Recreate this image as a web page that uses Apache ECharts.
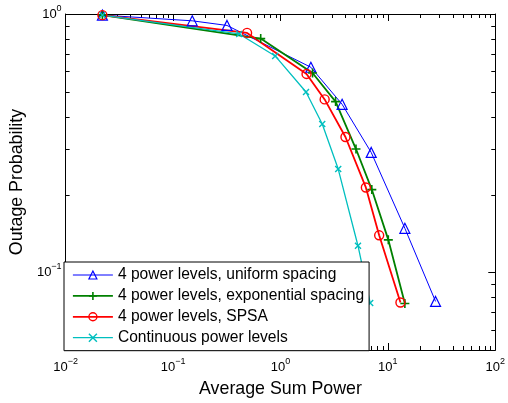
<!DOCTYPE html>
<html>
<head>
<meta charset="utf-8">
<script src="https://cdn.jsdelivr.net/npm/echarts@6/dist/echarts.min.js"></script>
<style>
html,body{margin:0;padding:0;background:#fff;}
#c{width:508px;height:403px;}
</style>
</head>
<body>
<div id="c"></div>
<script>
// ---- data ----
const seriesNames = [
  '4 power levels, uniform spacing',
  '4 power levels, exponential spacing',
  '4 power levels, SPSA',
  'Continuous power levels'
];
const uniformX = [0.022, 0.151, 0.318, 1.92, 3.75, 7.0, 14.4, 27.8];
const uniformY = [0.99, 0.941, 0.903, 0.622, 0.447, 0.291, 0.148, 0.0771];
const expX = [0.022, 0.655, 1.99, 3.26, 5.05, 7.09, 10.1, 14.4];
const expY = [0.99, 0.803, 0.591, 0.458, 0.300, 0.209, 0.1335, 0.0757];
const spsaX = [0.022, 0.489, 1.75, 2.58, 4.03, 6.24, 8.3, 13.1];
const spsaY = [0.99, 0.845, 0.586, 0.467, 0.334, 0.213, 0.139, 0.0764];
const contX = [0.022, 0.413, 0.893, 1.73, 2.45, 3.45, 5.27, 6.85];
const contY = [0.99, 0.837, 0.688, 0.499, 0.375, 0.251, 0.1267, 0.076];
const xMinorTicks = [0.02,0.03,0.04,0.05,0.06,0.07,0.08,0.09,
                     0.2,0.3,0.4,0.5,0.6,0.7,0.8,0.9,
                     2,3,4,5,6,7,8,9,
                     20,30,40,50,60,70,80,90];
const yMinorTicks = [0.06,0.07,0.08,0.09,0.2,0.3,0.4,0.5,0.6,0.7,0.8,0.9];

const FONT = '"Liberation Sans", Arial, Helvetica, sans-serif';
function pairs(xs, ys){ return xs.map((x,i)=>[x, ys[i]]); }
function powLabel(v){
  const e = Math.log10(v);
  const r = Math.round(e);
  if (Math.abs(e - r) > 1e-6) return '';
  return '{b|10}{s|' + (r < 0 ? '\u2212' + (-r) : r) + '}';
}
const richLab = {
  b: {fontSize: 13, lineHeight: 20, fontFamily: FONT, color: '#000'},
  s: {fontSize: 9, lineHeight: 9, verticalAlign: 'top', fontFamily: FONT, color: '#000'}
};
const PLUS = 'path://M5,0L5,10M0,5L10,5';
const CROSS = 'path://M0,0L10,10M0,10L10,0';

const chart = echarts.init(document.getElementById('c'), null, {renderer: 'canvas'});
const axisCommon = {
  type: 'log', logBase: 10,
  axisLine: {show: true, onZero: false, lineStyle: {color: '#000', width: 1}},
  splitLine: {show: false},
  minorTick: {show: false},
  minorSplitLine: {show: false}
};
chart.setOption({
  animation: false,
  backgroundColor: '#fff',
  textStyle: {fontFamily: FONT},
  grid: {left: 64, right: 10, top: 14, bottom: 47, containLabel: false},
  xAxis: [
    Object.assign({}, axisCommon, {
      position: 'bottom', min: 0.01, max: 100,
      axisTick: {show: true, inside: true, length: 7, lineStyle: {color: '#000'}},
      axisLabel: {show: true, margin: 7, formatter: powLabel, rich: richLab, showMinLabel: true, showMaxLabel: true},
      name: 'Average Sum Power', nameLocation: 'middle', nameGap: 30,
      nameTextStyle: {fontSize: 17.8, color: '#000', fontFamily: FONT}
    }),
    Object.assign({}, axisCommon, {
      position: 'top', min: 0.01, max: 100,
      axisTick: {show: true, inside: true, length: 7, lineStyle: {color: '#000'}},
      axisLabel: {show: false}
    })
  ],
  yAxis: [
    Object.assign({}, axisCommon, {
      position: 'left', min: 0.05, max: 1,
      axisTick: {show: true, inside: true, length: 7, lineStyle: {color: '#000'}},
      axisLabel: {show: true, margin: 4, formatter: powLabel, rich: richLab, showMinLabel: true, showMaxLabel: true},
      name: 'Outage Probability', nameLocation: 'middle', nameGap: 37, nameRotate: 90,
      nameTextStyle: {fontSize: 17.8, color: '#000', fontFamily: FONT}
    }),
    Object.assign({}, axisCommon, {
      position: 'right', min: 0.05, max: 1,
      axisTick: {show: true, inside: true, length: 7, lineStyle: {color: '#000'}},
      axisLabel: {show: false}
    })
  ],
  legend: {
    orient: 'vertical', left: 64, top: 262,
    data: seriesNames,
    backgroundColor: '#fff', borderColor: '#000', borderWidth: 1, borderRadius: 0,
    padding: [5, 5, 5, 8],
    itemWidth: 40, itemHeight: 10, itemGap: 4.9,
    lineStyle: {width: 'inherit'},
    itemStyle: {borderWidth: 'inherit'},
    textStyle: {fontSize: 15.6, color: '#000', fontFamily: FONT}
  },
  series: [
    {
      name: seriesNames[0], type: 'line', xAxisIndex: 0, yAxisIndex: 0,
      data: pairs(uniformX, uniformY),
      lineStyle: {color: '#0000ff', width: 1},
      symbol: 'triangle', symbolSize: 10, showAllSymbol: true,
      itemStyle: {color: 'rgba(0,0,0,0)', borderColor: '#0000ff', borderWidth: 1.2},
      color: '#0000ff'
    },
    {
      name: seriesNames[1], type: 'line', xAxisIndex: 0, yAxisIndex: 0,
      data: pairs(expX, expY),
      lineStyle: {color: '#008000', width: 1.8},
      symbol: PLUS, symbolSize: 9, showAllSymbol: true,
      itemStyle: {color: 'rgba(0,0,0,0)', borderColor: '#008000', borderWidth: 1.6},
      color: '#008000'
    },
    {
      name: seriesNames[2], type: 'line', xAxisIndex: 0, yAxisIndex: 0,
      data: pairs(spsaX, spsaY),
      lineStyle: {color: '#ff0000', width: 1.8},
      symbol: 'circle', symbolSize: 9, showAllSymbol: true,
      itemStyle: {color: 'rgba(0,0,0,0)', borderColor: '#ff0000', borderWidth: 1.4},
      color: '#ff0000'
    },
    {
      name: seriesNames[3], type: 'line', xAxisIndex: 0, yAxisIndex: 0,
      data: pairs(contX, contY),
      lineStyle: {color: '#00bfbf', width: 1.3},
      symbol: CROSS, symbolSize: 6, showAllSymbol: true,
      itemStyle: {color: 'rgba(0,0,0,0)', borderColor: '#00bfbf', borderWidth: 1.4},
      color: '#00bfbf'
    },
    {
      name: 'xminor', type: 'custom', xAxisIndex: 0, yAxisIndex: 0, silent: true,
      data: xMinorTicks.map(v => [v, 0.5]),
      renderItem: function(params, api){
        const cs = params.coordSys;
        const px = Math.round(api.coord([api.value(0), 0.5])[0]) + 0.5;
        const b = cs.y + cs.height, t = cs.y;
        return {type: 'group', children: [
          {type: 'line', shape: {x1: px, y1: b, x2: px, y2: b - 4}, style: {stroke: '#000', lineWidth: 1}},
          {type: 'line', shape: {x1: px, y1: t, x2: px, y2: t + 4}, style: {stroke: '#000', lineWidth: 1}}
        ]};
      }
    },
    {
      name: 'yminor', type: 'custom', xAxisIndex: 0, yAxisIndex: 0, silent: true,
      data: yMinorTicks.map(v => [1, v]),
      renderItem: function(params, api){
        const cs = params.coordSys;
        const py = Math.round(api.coord([1, api.value(1)])[1]) + 0.5;
        const l = cs.x, r = cs.x + cs.width;
        return {type: 'group', children: [
          {type: 'line', shape: {x1: l, y1: py, x2: l + 4, y2: py}, style: {stroke: '#000', lineWidth: 1}},
          {type: 'line', shape: {x1: r, y1: py, x2: r - 4, y2: py}, style: {stroke: '#000', lineWidth: 1}}
        ]};
      }
    }
  ]
});
</script>
</body>
</html>
